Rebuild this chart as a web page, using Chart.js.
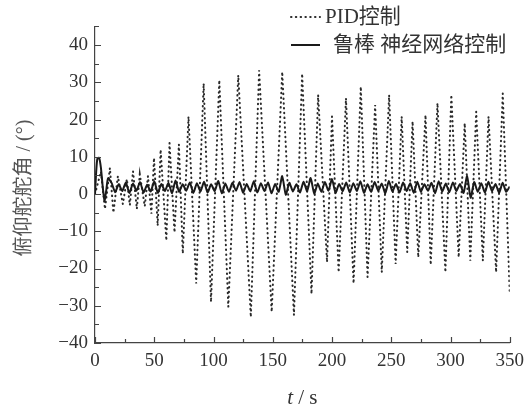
<!DOCTYPE html>
<html><head><meta charset="utf-8">
<script src="https://cdn.jsdelivr.net/npm/chart.js@4.4.0/dist/chart.umd.min.js"></script>
<style>html,body{margin:0;padding:0;background:#fff;overflow:hidden;}</style>
</head><body>
<canvas id="c" width="531" height="410"></canvas>
<script>
// ---- data ----
const seriesLabels = ['PID控制', '鲁棒 神经网络控制'];
const xTitleItalic = 't';
const xTitleRest = ' / s';
const yTitle = '俯仰舵舵角 / (°)';

// PID control: extrema of the oscillation (time s, angle deg)
const pidTime = [0, 5.0, 8.4, 12.6, 15.5, 19.3, 23.5, 26.9, 29.4, 32.1, 35.3, 37.8, 42.0, 44.7, 47.6,
  49.8, 52.9, 55.4, 60.2, 62.9, 67.1, 70.8, 74.1, 78.9, 85.4, 91.7, 97.9, 104.9, 112.5, 120.9,
  131.5, 138.5, 149.1, 158.0, 167.9, 174.8, 182.7, 188.3, 195.8, 200.0, 205.6, 211.8, 218.2, 224.3,
  230.0, 236.4, 242.0, 248.2, 253.7, 258.8, 263.5, 268.0, 272.8, 278.9, 283.3, 289.0, 295.7, 300.7,
  306.9, 312.0, 316.7, 321.7, 327.3, 332.1, 338.5, 344.1, 350];
const pidValue = [0, 6, -4, 7, -5, 4.8, -2.7, 4, -3, 6.1, -4, 5.3, -3.3, 4.8, -5.3,
  9.7, -8.5, 11.9, -12.5, 13.7, -10.3, 13.3, -16, 20.8, -24, 29.7, -29, 30.6, -30.3, 31.9,
  -33, 33.2, -31.6, 32.8, -32.5, 32.3, -26.8, 26.6, -18.3, 20.8, -21, 25.7, -24, 28.8,
  -22.3, 23.9, -21, 26.6, -18.8, 20.8, -15.6, 19.5, -17, 21.2, -19, 24.4, -21, 26.6,
  -17, 19, -17.9, 22.1, -17.9, 20.8, -21, 27, -26.7];

// Robust neural network control
const nnTime = [0, 1, 2, 3.5, 5, 6.5, 8, 9.5, 11, 14, 17, 20, 23, 26, 29, 32, 35, 38, 41, 44, 47, 50, 53, 56, 59,
  62, 65, 68, 71, 74, 77, 80, 83, 86, 89, 92, 95, 98, 101, 104, 107, 110, 113, 116, 119, 122, 125,
  128, 131, 134, 137, 140, 143, 146, 149, 152, 155, 158, 161, 164, 167, 170, 173, 176, 179, 182, 185,
  188, 191, 194, 197, 200, 203, 206, 209, 212, 215, 218, 221, 224, 227, 230, 233, 236, 239, 242, 245,
  248, 251, 254, 257, 260, 263, 266, 269, 272, 275, 278, 281, 284, 287, 290, 293, 296, 299, 302, 305,
  308, 311, 314, 317, 320, 323, 326, 329, 332, 335, 338, 341, 344, 347, 350];
const nnValue = [0, 6, 9.5, 9.7, 7, 2, -1.8, 1, 4.2, 3.0, 0.5, 2.6, 0.8, 3.1, 0.3, 2.8, 0.9, 3.2, 0.4, 2.5, 0.7, 3.4, 0.3, 2.7, 0.8,
  3.0, 0.2, 3.6, 0.6, 2.6, 0.9, 3.1, 0.3, 2.9, 0.7, 3.3, 0.4, 2.6, 0.8, 3.5, 0.2, 2.8, 0.6, 3.0, 0.9, 3.2, 0.3,
  2.7, 0.7, 3.4, 0.4, 2.9, 0.8, 3.1, 0.2, 2.7, 0.6, 4.8, -0.2, 3.0, 0.7, 2.6, 0.4, 3.3, 0.8, 4.3, 0.1,
  2.8, 0.6, 3.2, 0.9, 4.0, 0.3, 2.7, 0.7, 3.1, 0.4, 2.9, 0.8, 3.4, 0.3, 2.6, 0.6, 3.2, 0.9, 2.8, 0.2,
  3.5, 0.7, 2.7, 0.4, 3.1, 0.8, 2.9, 0.3, 3.3, 0.6, 2.6, 0.9, 3.0, 0.2, 3.4, 0.7, 2.8, 0.5, 3.1, 0.8,
  2.7, 0.3, 4.8, -1.0, 3.2, 0.6, 2.9, 0.4, 3.3, 0.8, 2.7, 0.3, 3.0, 0.6, 2.0];

const xMin = 0, xMax = 350, xStep = 50, xMinor = 25;
const yMin = -40, yMax = 45, yStep = 10, yMinor = 5;

// ---- chart ----
const serif = "'Liberation Serif', 'Noto Sans CJK SC', serif";
const ink = '#333';

const decor = {
  id: 'decor',
  beforeDraw(chart) {
    const ctx = chart.ctx;
    ctx.save(); ctx.fillStyle = '#fff'; ctx.fillRect(0, 0, chart.width, chart.height); ctx.restore();
  },
  afterDatasetsDraw(chart) {
    const ctx = chart.ctx, xs = chart.scales.x, ys = chart.scales.y;
    const left = chart.chartArea.left, bottom = chart.chartArea.bottom;
    ctx.save();
    ctx.strokeStyle = '#444'; ctx.lineWidth = 1.2;
    ctx.beginPath();
    for (let v = xMin; v <= xMax + 1e-9; v += xMinor) {
      const px = Math.round(xs.getPixelForValue(v)) + 0.5;
      const len = (v % xStep === 0) ? 6 : 4;
      ctx.moveTo(px, bottom); ctx.lineTo(px, bottom - len);
    }
    for (let v = yMin; v <= yMax + 1e-9; v += yMinor) {
      const py = Math.round(ys.getPixelForValue(v)) + 0.5;
      const len = (v % yStep === 0) ? 6 : 4;
      ctx.moveTo(left, py); ctx.lineTo(left + len, py);
    }
    ctx.stroke();
    ctx.restore();
  },
  afterDraw(chart) {
    const ctx = chart.ctx;
    ctx.save();
    // legend
    const ds = chart.data.datasets;
    const rows = [{y: 17, ds: ds[1], tx: 325}, {y: 45, ds: ds[0], tx: 333}];
    rows.forEach(r => {
      ctx.beginPath();
      ctx.strokeStyle = r.ds.borderColor;
      ctx.lineWidth = r.ds.borderWidth;
      ctx.lineCap = r.ds.borderCapStyle || 'butt';
      ctx.setLineDash(r.ds.borderDash || []);
      ctx.moveTo(291, r.y); ctx.lineTo(320, r.y);
      ctx.stroke();
      ctx.setLineDash([]);
      ctx.fillStyle = ink;
      ctx.font = "21px " + serif;
      ctx.textBaseline = 'middle'; ctx.textAlign = 'left';
      ctx.fillText(r.ds.label, r.tx, r.y);
    });
    // x title
    ctx.textBaseline = 'middle';
    ctx.font = "italic 21px " + serif;
    const w1 = ctx.measureText(xTitleItalic).width;
    ctx.font = "21px " + serif;
    const w2 = ctx.measureText(xTitleRest).width;
    const cx = (chart.chartArea.left + chart.chartArea.right) / 2;
    let sx = cx - (w1 + w2) / 2;
    ctx.font = "italic 21px " + serif;
    ctx.fillText(xTitleItalic, sx, 398);
    ctx.font = "21px " + serif;
    ctx.fillText(xTitleRest, sx + w1, 398);
    // y title
    ctx.translate(25, 188);
    ctx.rotate(-Math.PI / 2);
    ctx.textAlign = 'center';
    ctx.fillStyle = '#555';
    ctx.font = "20px " + serif;
    ctx.fillText(yTitle, 0, 0);
    ctx.restore();
  }
};

const toXY = (ts, vs) => ts.map((t, i) => ({x: t, y: vs[i]}));

new Chart(document.getElementById('c'), {
  type: 'line',
  data: {
    datasets: [
      {
        label: seriesLabels[1], data: toXY(nnTime, nnValue),
        borderColor: '#1a1a1a', borderWidth: 2, pointRadius: 0,
        tension: 0.2, order: 0
      },
      {
        label: seriesLabels[0], data: toXY(pidTime, pidValue),
        borderColor: '#2a2a2a', borderWidth: 2, borderDash: [0.5, 4.3], borderCapStyle: 'round',
        pointRadius: 0, tension: 0, order: 1
      }
    ]
  },
  options: {
    responsive: false, animation: false, devicePixelRatio: 1,
    layout: {padding: {left: 0, right: 18.3, top: 26.4, bottom: 0}},
    plugins: {legend: {display: false}, tooltip: {enabled: false}, title: {display: false}},
    scales: {
      x: {
        type: 'linear', min: xMin, max: xMax,
        grid: {display: false, drawTicks: false},
        border: {display: true, color: '#444', width: 1.2},
        ticks: {stepSize: xStep, padding: 7, color: ink, font: {family: serif, size: 19}, maxRotation: 0, autoSkip: false},
        afterFit(s) { s.height = 67; }
      },
      y: {
        type: 'linear', min: yMin, max: yMax,
        grid: {display: false, drawTicks: false},
        border: {display: true, color: '#444', width: 1.2},
        ticks: {stepSize: yStep, includeBounds: false, padding: 7, color: ink, font: {family: serif, size: 19},
          callback: v => (v % yStep === 0 ? String(v).replace('-', '\u2212') : '')},
        afterFit(s) { s.width = 95; }
      }
    }
  },
  plugins: [decor]
});
</script>
</body></html>
